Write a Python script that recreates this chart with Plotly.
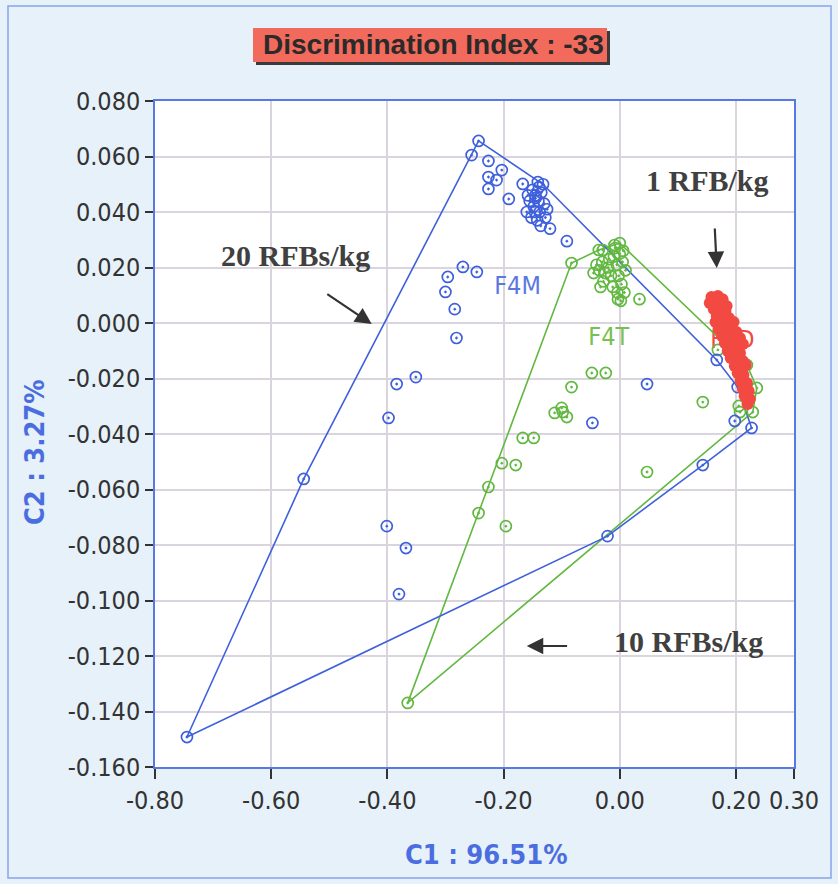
import plotly.graph_objects as go

# ---------------- data ----------------
blue_x = [-0.243, -0.255, -0.226, -0.203, -0.226, -0.212, -0.226, -0.191, -0.167, -0.141,
          -0.150, -0.145, -0.140, -0.135, -0.155, -0.148, -0.138, -0.130, -0.160, -0.152,
          -0.142, -0.128, -0.136, -0.120, -0.145, -0.132, -0.158, -0.125, -0.146, -0.139,
          -0.091, -0.270, -0.246, -0.296, -0.300, -0.284, -0.281, -0.384, -0.351, -0.398,
          -0.544, -0.401, -0.368, -0.380, -0.745, -0.021, -0.047, 0.047, 0.143, 0.198,
          0.227, 0.167, 0.203]
blue_y = [0.0656, 0.0605, 0.0584, 0.0551, 0.0526, 0.0515, 0.0483, 0.0447, 0.0501, 0.0508,
          0.048, 0.046, 0.044, 0.047, 0.044, 0.042, 0.040, 0.043, 0.040, 0.038,
          0.037, 0.038, 0.035, 0.034, 0.045, 0.050, 0.046, 0.041, 0.040, 0.049,
          0.0295, 0.0202, 0.0184, 0.0166, 0.0112, 0.0050, -0.0054, -0.0220, -0.0195, -0.0342,
          -0.0562, -0.0732, -0.0811, -0.0977, -0.1492, -0.0768, -0.0360, -0.0220, -0.0512, -0.0353,
          -0.0378, -0.0133, -0.0231]

green_x = [-0.083, -0.036, -0.029, -0.009, 0.000,
           -0.040, -0.035, -0.030, -0.025, -0.020, -0.015, -0.010, -0.005, 0.000, 0.005,
           -0.045, -0.028, -0.012, -0.002, 0.003, 0.008, 0.002, -0.004, 0.010, -0.018,
           -0.008, 0.006, -0.033,
           -0.003, 0.034, -0.048, -0.024, -0.083, -0.100, -0.112, -0.098, -0.091, -0.167,
           -0.148, -0.203, -0.179, -0.226, -0.243, -0.196, -0.365, 0.047, 0.143, 0.169,
           0.219, 0.236, 0.205, 0.207, 0.229]
green_y = [0.0216, 0.0263, 0.0263, 0.0281, 0.0288,
           0.021, 0.019, 0.022, 0.018, 0.020, 0.017, 0.024, 0.021, 0.025, 0.022,
           0.018, 0.015, 0.013, 0.017, 0.014, 0.011, 0.008, 0.011, 0.019, 0.023,
           0.027, 0.026, 0.013,
           0.0086, 0.0086, -0.0180, -0.0180, -0.0231, -0.0306, -0.0324, -0.0321, -0.0339, -0.0414,
           -0.0414, -0.0505, -0.0512, -0.0591, -0.0685, -0.0732, -0.1369, -0.0537, -0.0285, -0.0097,
           -0.0151, -0.0234, -0.0299, -0.0321, -0.0321]

red_x = [0.158, 0.169, 0.177, 0.155, 0.165, 0.176, 0.184, 0.162, 0.172, 0.182,
         0.167, 0.177, 0.188, 0.165, 0.176, 0.186, 0.196, 0.170, 0.181, 0.191,
         0.201, 0.176, 0.186, 0.196, 0.207, 0.181, 0.191, 0.201, 0.212, 0.186,
         0.196, 0.207, 0.191, 0.201, 0.212, 0.198, 0.208, 0.217, 0.203, 0.213,
         0.208, 0.219, 0.212, 0.222, 0.215, 0.224, 0.220]
red_y = [0.0094, 0.0097, 0.0086, 0.0072, 0.0076, 0.0068, 0.0061, 0.0050, 0.0047, 0.0043,
         0.0025, 0.0022, 0.0018, 0.0004, 0.0000, -0.0007, 0.0004, -0.0022, -0.0025, -0.0029,
         -0.0032, -0.0047, -0.0050, -0.0058, -0.0054, -0.0072, -0.0079, -0.0083, -0.0076, -0.0101,
         -0.0105, -0.0108, -0.0126, -0.0133, -0.0137, -0.0155, -0.0162, -0.0151, -0.0180, -0.0187,
         -0.0209, -0.0216, -0.0238, -0.0245, -0.0263, -0.0274, -0.0292]

group_labels = ["F4M", "F4T", "F4D"]
label_x = [-0.176, -0.019, 0.194]
label_y = [0.0126, -0.0058, -0.0068]

x_tick_vals = [-0.8, -0.6, -0.4, -0.2, 0.0, 0.2, 0.3]
x_tick_text = ["-0.80", "-0.60", "-0.40", "-0.20", "0.00", "0.20", "0.30"]
y_tick_vals = [0.08, 0.06, 0.04, 0.02, 0.0, -0.02, -0.04, -0.06, -0.08, -0.10, -0.12, -0.14, -0.16]
y_tick_text = ["0.080", "0.060", "0.040", "0.020", "0.000", "-0.020", "-0.040", "-0.060",
               "-0.080", "-0.100", "-0.120", "-0.140", "-0.160"]

title_text = "Discrimination Index : -33"
x_title = "C1 : 96.51%"
y_title = "C2 : 3.27%"


def convex_hull(xs, ys):
    pts = sorted(set(zip(xs, ys)))
    if len(pts) < 3:
        return pts

    def cross(o, a, b):
        return (a[0] - o[0]) * (b[1] - o[1]) - (a[1] - o[1]) * (b[0] - o[0])

    lower, upper = [], []
    for p in pts:
        while len(lower) >= 2 and cross(lower[-2], lower[-1], p) <= 0:
            lower.pop()
        lower.append(p)
    for p in reversed(pts):
        while len(upper) >= 2 and cross(upper[-2], upper[-1], p) <= 0:
            upper.pop()
        upper.append(p)
    hull = lower[:-1] + upper[:-1]
    hull.append(hull[0])
    return hull


BLUE = "#3f60dc"
GREEN = "#62b840"
RED = "#f24a42"
NARROW = "Liberation Sans Narrow, DejaVu Sans Condensed, Arial Narrow, sans-serif"
SERIF = "Liberation Serif, DejaVu Serif, serif"

fig = go.Figure()

# group labels (drawn beneath markers)
label_colors = ["#5a78e0", "#78c050", RED]
for t, lx, ly, c in zip(group_labels, label_x, label_y, label_colors):
    fig.add_trace(go.Scatter(x=[lx], y=[ly], mode="text", text=[t],
                             textfont=dict(family=NARROW, size=25, color=c),
                             hoverinfo="skip"))

# hulls
for xs, ys, c in [(green_x, green_y, GREEN), (blue_x, blue_y, BLUE), (red_x, red_y, RED)]:
    h = convex_hull(xs, ys)
    fig.add_trace(go.Scatter(x=[p[0] for p in h], y=[p[1] for p in h], mode="lines",
                             line=dict(color=c, width=1.6), hoverinfo="skip"))

# points
fig.add_trace(go.Scatter(x=green_x, y=green_y, mode="markers",
                         marker=dict(symbol="circle-open-dot", size=11, color=GREEN,
                                     line=dict(width=1.7, color=GREEN))))
fig.add_trace(go.Scatter(x=blue_x, y=blue_y, mode="markers",
                         marker=dict(symbol="circle-open-dot", size=11, color=BLUE,
                                     line=dict(width=1.7, color=BLUE))))
fig.add_trace(go.Scatter(x=red_x, y=red_y, mode="markers",
                         marker=dict(symbol="circle", size=12, color=RED,
                                     line=dict(width=0))))

# paper coords helpers (plot area px: x 155..794, y 101..767)
L, R, T, B = 155, 794, 101, 767
def px(xp):
    return (xp - L) / (R - L)
def py(yp):
    return (B - yp) / (B - T)

shapes = [
    # outer frame
    dict(type="rect", xref="paper", yref="paper", x0=px(8), x1=px(831), y0=py(6), y1=py(878),
         line=dict(color="#8aa2ea", width=1.5), layer="below"),
    # title shadow & box
    dict(type="rect", xref="paper", yref="paper", x0=px(256), x1=px(610), y0=py(31), y1=py(65),
         fillcolor="#3a3a3a", line=dict(width=0)),
    dict(type="rect", xref="paper", yref="paper", x0=px(253), x1=px(607), y0=py(28), y1=py(62),
         fillcolor="#f26a5c", line=dict(width=0)),
]

mid = dict(xanchor="center", yanchor="middle")
ARROW = dict(showarrow=True, arrowhead=2, arrowsize=1.5, arrowwidth=2.2, arrowcolor="#333333",
             xref="x", yref="y", axref="x", ayref="y", text="")
annotations = [
    dict(text="<b>" + title_text + "</b>", xref="paper", yref="paper", x=px(433), y=py(45),
         showarrow=False, font=dict(family="Liberation Sans, DejaVu Sans, sans-serif", size=28,
                                    color="#2a2a2a"), **mid),
    dict(text="<b>" + x_title + "</b>", xref="paper", yref="paper", x=px(486), y=py(855),
         showarrow=False, font=dict(family=NARROW, size=27, color="#4a6ee0"), **mid),
    dict(text="<b>" + y_title + "</b>", xref="paper", yref="paper", x=px(35), y=py(452),
         showarrow=False, textangle=-90, font=dict(family=NARROW, size=27, color="#4a6ee0"), **mid),
    # callouts
    dict(text="<b>1 RFB/kg</b>", x=0.151, y=0.0515, xref="x", yref="y", showarrow=False,
         font=dict(family=SERIF, size=30, color="#404040"), **mid),
    dict(x=0.167, y=0.0198, ax=0.1635, ay=0.0346, **ARROW),
    dict(text="<b>20 RFBs/kg</b>", x=-0.558, y=0.0245, xref="x", yref="y", showarrow=False,
         font=dict(family=SERIF, size=30, color="#404040"), **mid),
    dict(x=-0.427, y=-0.0004, ax=-0.506, ay=0.0108, **ARROW),
    dict(text="<b>10 RFBs/kg</b>", x=0.119, y=-0.1146, xref="x", yref="y", showarrow=False,
         font=dict(family=SERIF, size=30, color="#404040"), **mid),
    dict(x=-0.160, y=-0.1164, ax=-0.088, ay=-0.1164, **ARROW),
]

fig.update_layout(
    width=838, height=884,
    margin=dict(l=L, r=838 - R, t=T, b=884 - B),
    paper_bgcolor="#e7f1f9",
    plot_bgcolor="#ffffff",
    showlegend=False,
    shapes=shapes,
    annotations=annotations,
    xaxis=dict(range=[-0.8, 0.3], tickvals=x_tick_vals, ticktext=x_tick_text,
               showgrid=True, gridcolor="#d9d4de", gridwidth=1.5, zeroline=False,
               showline=True, linecolor="#5a78e4", linewidth=1.5, mirror=True,
               ticks="outside", ticklen=10, tickwidth=2, tickcolor="#333333",
               tickfont=dict(family=NARROW, size=25, color="#333333")),
    yaxis=dict(range=[-0.16, 0.08], tickvals=y_tick_vals, ticktext=y_tick_text,
               showgrid=True, gridcolor="#d9d4de", gridwidth=1.5, zeroline=False,
               showline=True, linecolor="#5a78e4", linewidth=1.5, mirror=True,
               ticks="outside", ticklen=8, tickwidth=2, tickcolor="#333333",
               tickfont=dict(family=NARROW, size=25, color="#333333")),
)

fig.write_html("out.html", config={"displayModeBar": False},
               post_script="document.body.style.margin='0';document.body.style.padding='0';")
